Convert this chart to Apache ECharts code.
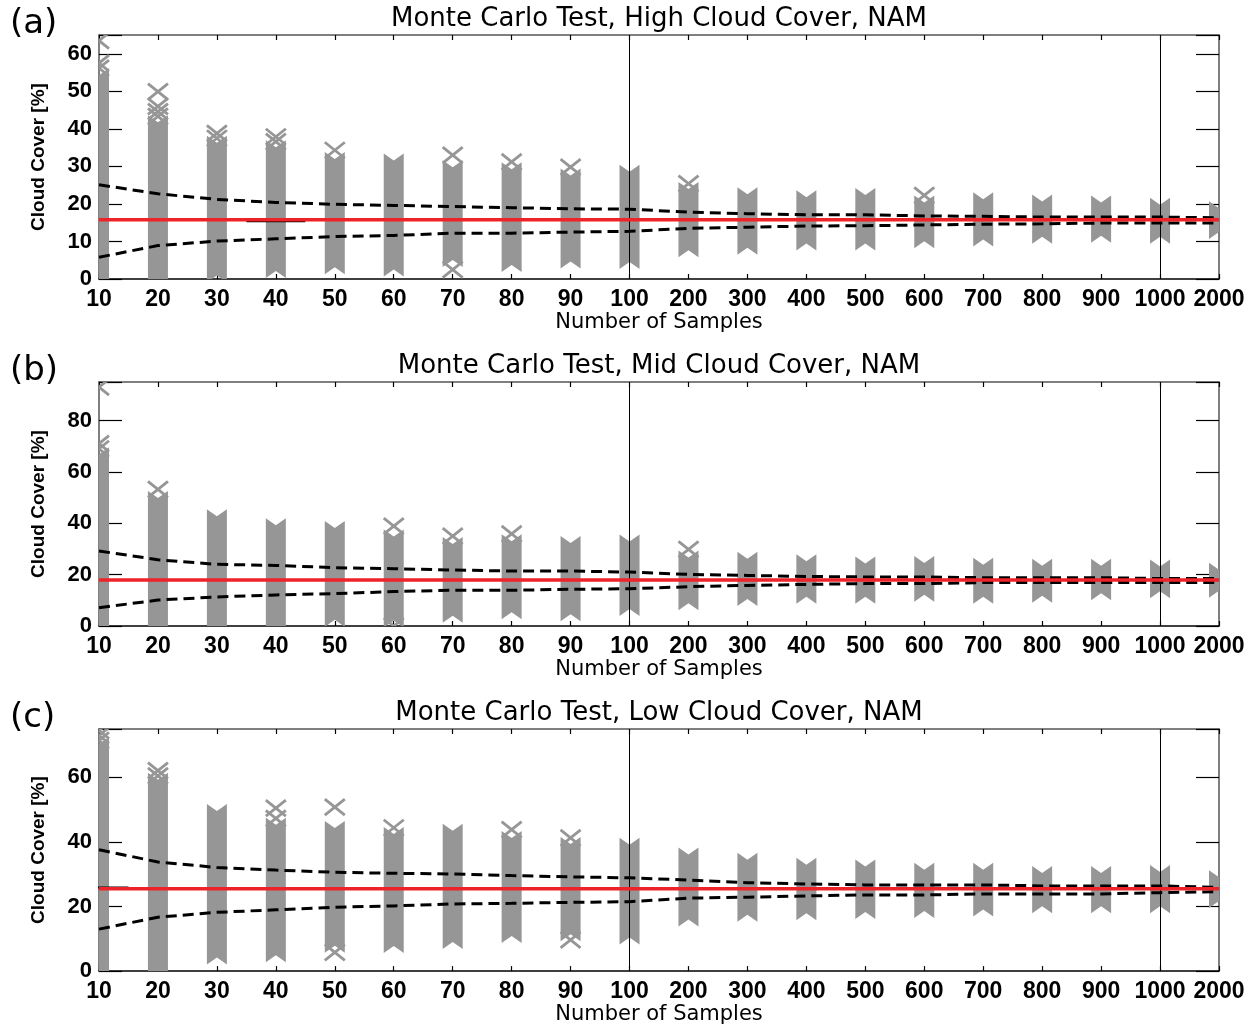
<!DOCTYPE html>
<html>
<head>
<meta charset="utf-8">
<script src="https://cdn.jsdelivr.net/npm/echarts@6/dist/echarts.min.js"></script>
<style>
  html, body { margin: 0; padding: 0; background: #fff; }
  #chart { width: 1255px; height: 1026px; }
</style>
</head>
<body>
<div id="chart"></div>
<script>
// Sample sizes along the x axis (evenly spaced categories)
const sampleSizes = ['10','20','30','40','50','60','70','80','90','100','200','300','400','500','600','700','800','900','1000','2000'];

// (a) High cloud cover
const hiA  = [54, 41.5, 36, 34.8, 31.7, 31.3, 29.5, 29, 27.3, 28.3, 23.7, 22.3, 21.5, 22.1, 20.1, 21.0, 20.4, 20.1, 19.5, 18.6];
const loA  = [0, 0, 1.2, 2.4, 3.4, 2.8, 5.3, 4.0, 4.9, 4.8, 7.9, 8.6, 9.7, 9.7, 10.3, 10.8, 11.5, 11.8, 11.5, 12.8];
const outA = [[0, 63.5], [0, 57.5], [0, 56.2], [1, 49.9], [1, 46], [1, 44.6], [1, 43.3], [2, 38.8], [2, 37.5],
              [3, 37.9], [3, 36.6], [4, 34.3], [6, 33.0], [6, 2.5], [7, 31.2], [8, 29.8], [10, 25.4], [14, 22.3]];
const upA  = [25.1, 22.7, 21.2, 20.4, 19.9, 19.6, 19.3, 19.0, 18.7, 18.6, 17.8, 17.4, 17.1, 17.1, 16.8, 16.7, 16.5, 16.5, 16.5, 16.3];
const lowA = [5.8, 8.9, 10.1, 10.7, 11.3, 11.6, 12.2, 12.2, 12.5, 12.7, 13.5, 13.8, 14.1, 14.2, 14.4, 14.6, 14.7, 14.9, 14.9, 14.9];
const meanA = 15.8;
const barA  = [3, 15.4];

// (b) Mid cloud cover
const hiB  = [66.5, 49.4, 42.3, 38.8, 37.8, 34.5, 31.5, 32.6, 31.9, 32.5, 26.3, 25.8, 24.8, 23.9, 24.1, 23.5, 23.1, 23.1, 22.8, 21.5];
const loB  = [0, 0, 0, 0, 2.8, 2.5, 4.4, 5.7, 5.0, 7.0, 9.2, 10.9, 11.8, 11.8, 12.6, 11.8, 12.2, 13.1, 13.9, 14.1];
const outB = [[0, 93], [0, 71], [0, 69], [1, 53.2], [5, 38.9], [5, 0], [6, 35.0], [7, 35.9], [10, 29.8]];
const upB  = [29.2, 25.8, 24.0, 23.6, 22.7, 22.3, 21.8, 21.4, 21.4, 21.0, 20.1, 19.7, 19.3, 19.1, 19.1, 18.8, 18.8, 18.8, 18.5, 18.5];
const lowB = [7.1, 10.1, 11.3, 12.1, 12.6, 13.4, 13.9, 13.9, 14.3, 14.5, 15.3, 15.8, 16.2, 16.5, 16.5, 16.9, 16.9, 16.9, 16.9, 16.9];
const meanB = 17.9;
const barB  = null;

// (c) Low cloud cover
const hiC  = [70, 59, 49.3, 45, 44, 42.2, 43.2, 40.9, 39.1, 38.8, 35.8, 34.2, 32.6, 32.1, 31.1, 31.1, 30.1, 30.1, 30.4, 28.8];
const loC  = [0, 0, 4.5, 5.2, 8.2, 8.1, 9.3, 11.2, 11.7, 10.7, 16.3, 17.8, 18.2, 18.6, 18.9, 19.4, 20.4, 20.4, 20.4, 22.0];
const outC = [[0, 74.5], [0, 73], [0, 71.5], [1, 62.1], [1, 60.5], [3, 50.5], [3, 47.3], [4, 50.8], [4, 5.8],
              [5, 44.4], [7, 43.8], [8, 41.3], [8, 9.7]];
const upC  = [37.6, 33.8, 32.1, 31.3, 30.6, 30.3, 30.1, 29.6, 29.2, 28.9, 28.2, 27.4, 27.0, 26.7, 26.7, 26.7, 26.4, 26.4, 26.4, 25.9];
const lowC = [13.0, 16.7, 18.2, 19.0, 19.8, 20.2, 20.8, 21.0, 21.3, 21.5, 22.6, 22.9, 23.3, 23.6, 23.6, 23.9, 23.9, 23.9, 24.3, 24.6];
const meanC = 25.5;
const barC  = [0, 25.9];

const panelLetters = ['(a)', '(b)', '(c)'];
const panelTitles = [
  'Monte Carlo Test, High Cloud Cover, NAM',
  'Monte Carlo Test, Mid Cloud Cover, NAM',
  'Monte Carlo Test, Low Cloud Cover, NAM'
];
const yMaxes = [65, 95, 75];
const ySteps = [10, 20, 20];

const panels = [
  { hi: hiA, lo: loA, out: outA, up: upA, low: lowA, mean: meanA, bar: barA },
  { hi: hiB, lo: loB, out: outB, up: upB, low: lowB, mean: meanB, bar: barB },
  { hi: hiC, lo: loC, out: outC, up: upC, low: lowC, mean: meanC, bar: barC }
];

const FONT = 'DejaVu Sans';
const FONT_B = 'Liberation Sans';
const GRAY = '#969696';
const RED = '#ee2229';
const gridTops = [35, 382, 729];
const gridLeft = 99, gridWidth = 1120, gridHeight = 244;
const markW = 10, markH = 8;   // half size of an "x" sample marker, px

const grids = [], xAxes = [], yAxes = [], series = [], graphics = [];

panels.forEach((p, k) => {
  const top = gridTops[k];
  grids.push({ left: gridLeft, top: top, width: gridWidth, height: gridHeight });

  const xBase = {
    gridIndex: k, type: 'value', min: 0, max: sampleSizes.length - 1, interval: 1,
    splitLine: { show: false }
  };
  xAxes.push(Object.assign({}, xBase, {
    position: 'bottom',
    name: 'Number of Samples', nameLocation: 'middle', nameGap: 32,
    nameTextStyle: { fontFamily: FONT, fontSize: 21, color: '#000' },
    axisLine: { onZero: false, lineStyle: { color: '#000', width: 1.5 } },
    axisTick: { inside: true, length: 5, lineStyle: { color: '#000', width: 1.2 } },
    axisLabel: {
      margin: 9, fontFamily: FONT_B, fontWeight: 'bold', fontSize: 23, color: '#000',
      formatter: v => sampleSizes[v] || ''
    }
  }));
  xAxes.push(Object.assign({}, xBase, {
    position: 'top',
    axisLine: { onZero: false, lineStyle: { color: '#555', width: 1.5 } },
    axisTick: { inside: true, length: 5, lineStyle: { color: '#000', width: 1.2 } },
    axisLabel: { show: false }
  }));

  const step = ySteps[k];
  const yBase = {
    gridIndex: k, type: 'value', min: 0, max: yMaxes[k], interval: step,
    splitLine: { show: false }
  };
  yAxes.push(Object.assign({}, yBase, {
    position: 'left',
    name: 'Cloud Cover [%]', nameLocation: 'middle', nameGap: 51,
    nameTextStyle: { fontFamily: FONT_B, fontWeight: 'bold', fontSize: 19, color: '#000' },
    axisLine: { onZero: false, lineStyle: { color: '#555', width: 1.5 } },
    axisTick: { inside: true, length: 23, lineStyle: { color: '#000', width: 1.2 } },
    axisLabel: {
      margin: 7, fontFamily: FONT_B, fontWeight: 'bold', fontSize: 22, color: '#000',
      formatter: v => (v % step === 0 ? String(v) : '')
    }
  }));
  yAxes.push(Object.assign({}, yBase, {
    position: 'right',
    axisLine: { onZero: false, lineStyle: { color: '#555', width: 1.5 } },
    axisTick: { inside: true, length: 23, lineStyle: { color: '#000', width: 1.2 } },
    axisLabel: { show: false }
  }));

  const xi = 2 * k, yi = 2 * k;

  // dense runs of samples: a column whose ends carry the notch of the outermost "x"
  series.push({
    type: 'custom', xAxisIndex: xi, yAxisIndex: yi, clip: true, z: 2, silent: true,
    data: p.hi.map((h, i) => [i, p.lo[i], h]),
    encode: { x: 0, y: [1, 2] },
    renderItem: (params, api) => {
      const i = api.value(0);
      const bot = api.coord([i, api.value(1)]);
      const tp = api.coord([i, api.value(2)]);
      const x = tp[0];
      return {
        type: 'polygon',
        shape: { points: [
          [x - markW, tp[1] - markH], [x, tp[1] - 1], [x + markW, tp[1] - markH],
          [x + markW, bot[1] + markH], [x, bot[1] + 1], [x - markW, bot[1] + markH]
        ] },
        style: { fill: GRAY }
      };
    }
  });

  // isolated samples drawn as "x" markers
  series.push({
    type: 'custom', xAxisIndex: xi, yAxisIndex: yi, clip: true, z: 2, silent: true,
    data: p.out,
    encode: { x: 0, y: 1 },
    renderItem: (params, api) => {
      const c = api.coord([api.value(0), api.value(1)]);
      const st = { stroke: GRAY, lineWidth: 2.8 };
      return {
        type: 'group',
        children: [
          { type: 'line', shape: { x1: c[0] - markW, y1: c[1] - markH, x2: c[0] + markW, y2: c[1] + markH }, style: st },
          { type: 'line', shape: { x1: c[0] - markW, y1: c[1] + markH, x2: c[0] + markW, y2: c[1] - markH }, style: st }
        ]
      };
    }
  });

  // confidence bounds
  [p.up, p.low].forEach((arr, j) => {
    const s = {
      type: 'line', xAxisIndex: xi, yAxisIndex: yi, z: 3, silent: true,
      symbol: 'none', animation: false,
      data: arr.map((v, i) => [i, v]),
      lineStyle: { color: '#000', width: 3, type: [11, 6] }
    };
    if (j === 0) {
      s.markLine = {
        silent: true, symbol: ['none', 'none'], label: { show: false },
        lineStyle: { color: '#000', width: 1, type: 'solid' },
        data: [{ xAxis: sampleSizes.indexOf('100') }, { xAxis: sampleSizes.indexOf('1000') }]
      };
    }
    series.push(s);
  });

  // short black reference bar, one category wide
  if (p.bar) {
    series.push({
      type: 'line', xAxisIndex: xi, yAxisIndex: yi, z: 4, silent: true,
      symbol: 'none', animation: false, clip: true,
      data: [[p.bar[0] - 0.5, p.bar[1]], [p.bar[0] + 0.5, p.bar[1]]],
      lineStyle: { color: '#000', width: 2 }
    });
  }

  // mean cloud cover
  series.push({
    type: 'line', xAxisIndex: xi, yAxisIndex: yi, z: 5, silent: true,
    symbol: 'none', animation: false,
    data: sampleSizes.map((_, i) => [i, p.mean]),
    lineStyle: { color: RED, width: 3.5 }
  });

  graphics.push({
    type: 'text', x: gridLeft + gridWidth / 2, y: top - 16,
    style: { text: panelTitles[k], fontFamily: FONT, fontSize: 26, fill: '#000',
             textAlign: 'center', textVerticalAlign: 'middle' }
  });
  graphics.push({
    type: 'text', x: 10, y: top - 11,
    style: { text: panelLetters[k], fontFamily: FONT, fontSize: 34, fill: '#000',
             textAlign: 'left', textVerticalAlign: 'middle' }
  });
});

const chart = echarts.init(document.getElementById('chart'), null, { renderer: 'canvas' });
chart.setOption({
  animation: false,
  backgroundColor: '#fff',
  grid: grids,
  xAxis: xAxes,
  yAxis: yAxes,
  series: series,
  graphic: graphics
});
</script>
</body>
</html>
